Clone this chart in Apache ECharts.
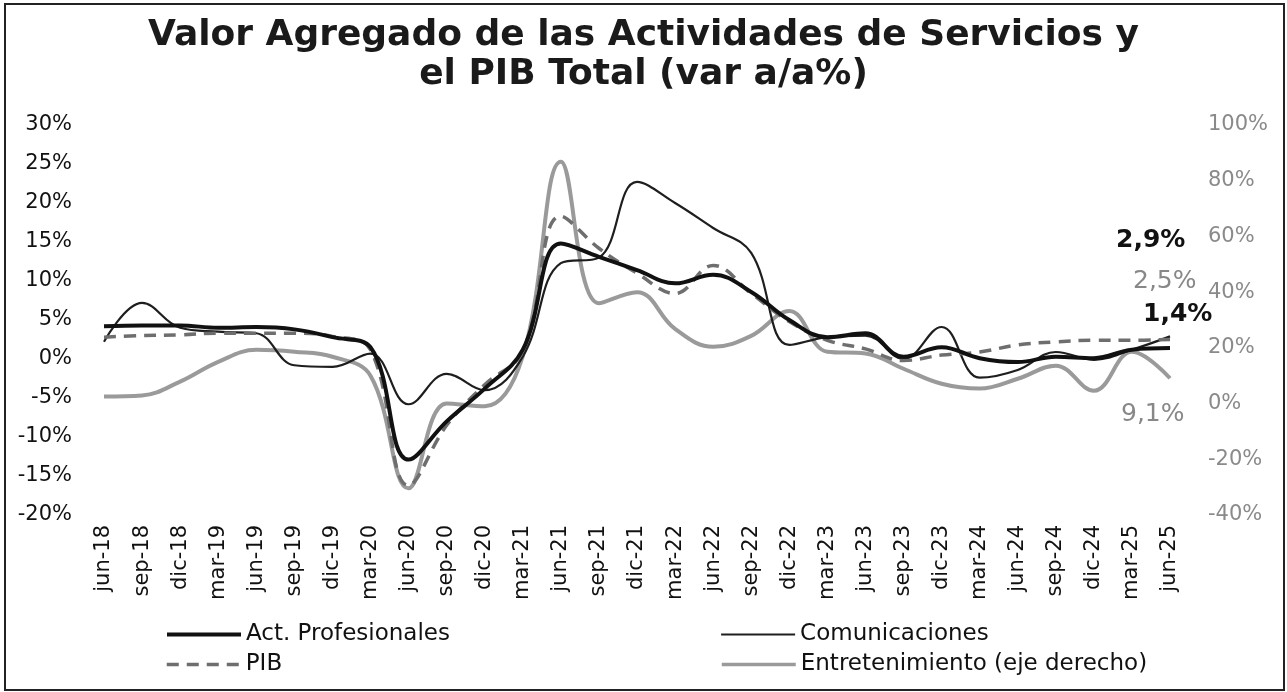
<!DOCTYPE html>
<html>
<head>
<meta charset="utf-8">
<script src="https://cdn.jsdelivr.net/npm/echarts@6/dist/echarts.min.js"></script>
<style>
  html, body { margin: 0; padding: 0; background: #fff; }
  #chart { position: absolute; left: 0; top: 0; width: 1287px; height: 692px; }
  #frame { position: absolute; left: 4px; top: 3px; width: 1277px; height: 684px; border: 2px solid #222; pointer-events: none; }
</style>
</head>
<body>
<div id="chart"></div>
<div id="frame"></div>
<script>
// trimestres jun-18 .. jun-25
var categorias = ['jun-18','sep-18','dic-18','mar-19','jun-19','sep-19','dic-19','mar-20','jun-20','sep-20','dic-20',
  'mar-21','jun-21','sep-21','dic-21','mar-22','jun-22','sep-22','dic-22','mar-23','jun-23','sep-23','dic-23',
  'mar-24','jun-24','sep-24','dic-24','mar-25','jun-25'];

// var a/a %, eje izquierdo
var actProfesionales = [4.2, 4.3, 4.3, 4.0, 4.1, 3.8, 2.8, 1.5, -12.9, -8.0, -3.8, 1.2, 14.8, 13.1, 11.4, 9.7, 10.8, 8.6, 5.0, 2.8, 3.3, 0.3, 1.5, 0.1, -0.4, 0.3, 0.1, 1.2, 1.4];
var comunicaciones = [2.2, 7.2, 4.0, 3.5, 3.3, -0.8, -1.0, 0.7, -5.8, -1.9, -4.0, 0.3, 12.3, 13.0, 22.7, 20.0, 16.8, 13.6, 1.8, 2.8, 3.0, 0.0, 4.1, -2.4, -1.4, 0.9, -0.1, 1.2, 2.9];
var pib = [2.8, 3.0, 3.1, 3.3, 3.3, 3.3, 2.9, 1.2, -16.2, -8.5, -3.3, 1.0, 18.3, 14.2, 11.0, 8.4, 12.0, 8.4, 4.8, 2.4, 1.3, -0.2, 0.5, 0.9, 1.8, 2.2, 2.4, 2.4, 2.5];
// eje derecho
var entretenimiento = [2.5, 2.9, 7.9, 15.0, 19.3, 18.6, 16.8, 10.0, -30.4, 0.0, -1.0, 17.0, 86.8, 36.0, 40.0, 26.8, 20.4, 24.3, 33.2, 18.6, 18.0, 12.5, 7.1, 5.4, 8.9, 13.6, 4.6, 18.6, 9.1];

var nombres = ['Act. Profesionales', 'Comunicaciones', 'PIB', 'Entretenimiento (eje derecho)'];

var fuente = 'DejaVu Sans';

function leyenda(nombre, x, y, grosor) {
  return {
    data: [nombre],
    left: x,
    top: y,
    padding: 0,
    itemWidth: 74,
    itemHeight: 20,
    itemGap: 0,
    itemStyle: { opacity: 0 },
    lineStyle: { width: grosor },
    textStyle: { fontFamily: fuente, fontSize: 23, color: '#111' }
  };
}

var chart = echarts.init(document.getElementById('chart'));
var option = {
  animation: false,
  backgroundColor: '#fff',
  title: {
    text: 'Valor Agregado de las Actividades de Servicios y\nel PIB Total (var a/a%)',
    left: 'center',
    top: 11,
    textStyle: { fontFamily: fuente, fontWeight: 'bold', fontSize: 36, lineHeight: 39, color: '#1a1a1a' }
  },
  legend: [
    leyenda(nombres[0], 165, 623, 4),
    leyenda(nombres[1], 720, 623, 2.2),
    leyenda(nombres[2], 165, 653, 3.5),
    leyenda(nombres[3], 720, 653, 3.5)
  ],
  grid: { left: 104, right: 117, top: 125, bottom: 177 },
  xAxis: {
    type: 'category',
    data: categorias,
    boundaryGap: false,
    axisLine: { show: false },
    axisTick: { show: false },
    axisLabel: { rotate: 90, interval: 0, margin: 10, fontFamily: fuente, fontSize: 21, color: '#111' }
  },
  yAxis: [
    {
      type: 'value', min: -20, max: 30, interval: 5,
      axisLine: { show: false }, axisTick: { show: false }, splitLine: { show: false },
      axisLabel: { margin: 32, fontFamily: fuente, fontSize: 21, color: '#111', formatter: '{value}%' }
    },
    {
      type: 'value', min: -40, max: 100, interval: 20,
      axisLine: { show: false }, axisTick: { show: false }, splitLine: { show: false },
      axisLabel: { margin: 38, fontFamily: fuente, fontSize: 21, color: '#8a8a8a', formatter: '{value}%' }
    }
  ],
  series: [
    {
      name: nombres[3], type: 'line', yAxisIndex: 1, data: entretenimiento,
      smooth: 0.4, symbol: 'none', z: 2,
      lineStyle: { color: '#9a9a9a', width: 4 }, itemStyle: { color: '#9a9a9a' },
      endLabel: { show: true, formatter: '9,1%', offset: [-57, 36], fontFamily: fuente, fontSize: 25, color: '#888' }
    },
    {
      name: nombres[1], type: 'line', data: comunicaciones,
      smooth: 0.4, symbol: 'none', z: 3,
      lineStyle: { color: '#1e1e1e', width: 2.2 }, itemStyle: { color: '#1e1e1e' },
      endLabel: { show: true, formatter: '2,9%', offset: [-62, -96], fontFamily: fuente, fontSize: 25, fontWeight: 'bold', color: '#111' }
    },
    {
      name: nombres[2], type: 'line', data: pib,
      smooth: 0.4, symbol: 'none', z: 4,
      lineStyle: { color: '#6e6e6e', width: 3.5, type: [12, 8] }, itemStyle: { color: '#6e6e6e' },
      endLabel: { show: true, formatter: '2,5%', offset: [-45, -58], fontFamily: fuente, fontSize: 25, color: '#888' }
    },
    {
      name: nombres[0], type: 'line', data: actProfesionales,
      smooth: 0.4, symbol: 'none', z: 5,
      lineStyle: { color: '#111', width: 4 }, itemStyle: { color: '#111' },
      endLabel: { show: true, formatter: '1,4%', offset: [-35, -34], fontFamily: fuente, fontSize: 25, fontWeight: 'bold', color: '#111' }
    }
  ]
};
chart.setOption(option);
</script>
</body>
</html>
